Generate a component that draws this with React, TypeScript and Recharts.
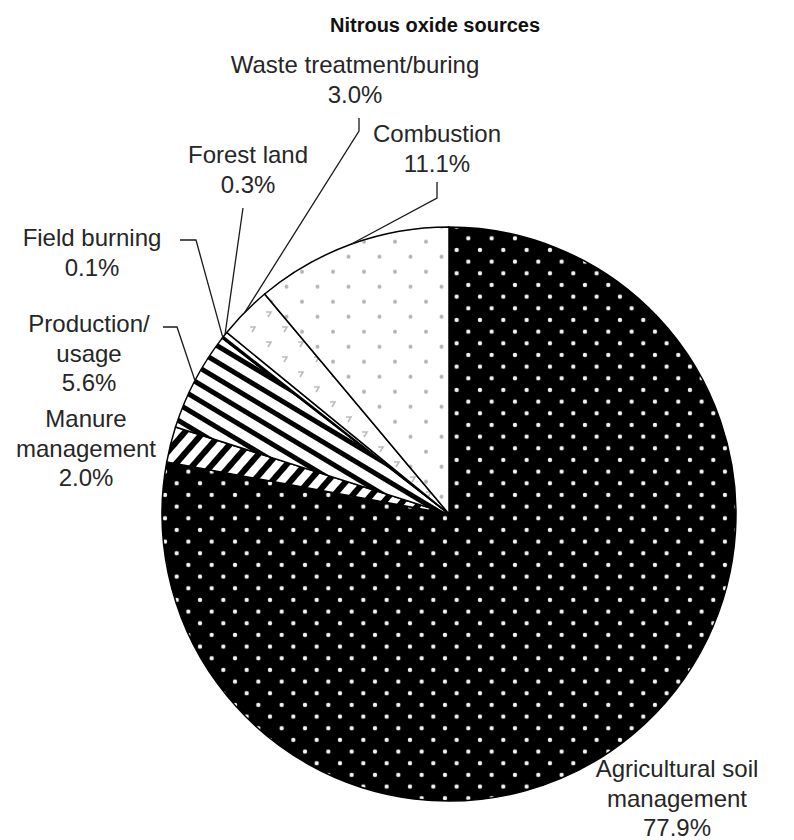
import { Cell, Pie, PieChart } from "recharts";

// nitrous oxide sources, clockwise from 12 o'clock
const sources = [
  "Agricultural soil management",
  "Manure management",
  "Production/usage",
  "Field burning",
  "Forest land",
  "Waste treatment/buring",
  "Combustion",
];
const shares = [77.9, 2.0, 5.6, 0.1, 0.3, 3.0, 11.1];
const labelLines = [
  ["Agricultural soil", "management"],
  ["Manure", "management"],
  ["Production/", "usage"],
  ["Field burning"],
  ["Forest land"],
  ["Waste treatment/buring"],
  ["Combustion"],
];

const chartData = sources.map((name, i) => ({ name, value: shares[i] }));

const fills = [
  "url(#pAgri)",
  "url(#pManure)",
  "url(#pProd)",
  "#000",
  "#fff",
  "url(#pWaste)",
  "url(#pComb)",
];

// where each label sits, and the elbow of its leader line
const labelLayout: { x: number; y: number; leader?: number[][] }[] = [
  { x: 677, y: 777 },
  { x: 86, y: 427 },
  { x: 89, y: 332, leader: [[163, 327], [177, 327]] },
  { x: 92, y: 246, leader: [[180, 240], [196, 240]] },
  { x: 248, y: 163, leader: [[243, 208]] },
  { x: 355, y: 73, leader: [[359, 118], [359, 131]] },
  { x: 437, y: 142, leader: [[437, 182], [437, 198]] },
];

const FONT = "'Liberation Sans', Arial, Helvetica, sans-serif";
const LINE_H = 29.5;
const RAD = Math.PI / 180;

const renderLabel = (props: any) => {
  const { cx, cy, midAngle, outerRadius, index } = props;
  const ex = cx + outerRadius * Math.cos(-midAngle * RAD);
  const ey = cy + outerRadius * Math.sin(-midAngle * RAD);
  const lay = labelLayout[index];
  const lines = [...labelLines[index], `${shares[index].toFixed(1)}%`];
  return (
    <g key={`lbl-${index}`}>
      {lay.leader && (
        <polyline
          points={[...lay.leader, [ex, ey]].map((p) => p.join(",")).join(" ")}
          fill="none"
          stroke="#1a1a1a"
          strokeWidth={1.3}
        />
      )}
      <text
        x={lay.x}
        y={lay.y}
        textAnchor="middle"
        fontFamily={FONT}
        fontSize={24}
        fill="#262626"
      >
        {lines.map((t, i) => (
          <tspan key={i} x={lay.x} dy={i === 0 ? 0 : LINE_H}>
            {t}
          </tspan>
        ))}
      </text>
    </g>
  );
};

export default function App() {
  return (
    <div style={{ position: "absolute", left: 0, top: 0, background: "#fff" }}>
      <PieChart
        width={794}
        height={840}
        margin={{ top: 0, right: 0, bottom: 0, left: 0 }}
      >
        <defs>
          <pattern id="pAgri" patternUnits="userSpaceOnUse" width={23.33} height={23.33} x={1.7} y={5}>
            <rect width={23.33} height={23.33} fill="#000" />
            <circle cx={0} cy={0} r={2.2} fill="#f2f2f2" />
            <circle cx={23.33} cy={0} r={2.2} fill="#f2f2f2" />
            <circle cx={0} cy={23.33} r={2.2} fill="#f2f2f2" />
            <circle cx={23.33} cy={23.33} r={2.2} fill="#f2f2f2" />
            <circle cx={11.67} cy={11.67} r={2.2} fill="#f2f2f2" />
          </pattern>
          <pattern id="pComb" patternUnits="userSpaceOnUse" width={31} height={30} x={23} y={1.7}>
            <rect width={31} height={30} fill="#fff" />
            <circle cx={0} cy={0} r={2} fill="#b3b3b3" />
            <circle cx={31} cy={0} r={2} fill="#b3b3b3" />
            <circle cx={0} cy={30} r={2} fill="#b3b3b3" />
            <circle cx={31} cy={30} r={2} fill="#b3b3b3" />
            <circle cx={15.5} cy={15} r={2} fill="#b3b3b3" />
          </pattern>
          <pattern id="pWaste" patternUnits="userSpaceOnUse" width={32} height={30} x={5} y={7}>
            <rect width={32} height={30} fill="#fff" />
            <path d="M5,5 h5 l-3,5" fill="none" stroke="#bbb" strokeWidth={1.6} />
            <path d="M21,20 h5 l-3,5" fill="none" stroke="#bbb" strokeWidth={1.6} />
          </pattern>
          <pattern id="pProd" patternUnits="userSpaceOnUse" width={14} height={14} patternTransform="rotate(31)">
            <rect width={14} height={14} fill="#fff" />
            <rect width={14} height={5} fill="#000" />
          </pattern>
          <pattern id="pManure" patternUnits="userSpaceOnUse" width={14} height={14} patternTransform="rotate(-49)">
            <rect width={14} height={14} fill="#fff" />
            <rect width={14} height={6} fill="#000" />
          </pattern>
        </defs>
        <text
          x={435}
          y={32}
          textAnchor="middle"
          fontFamily={FONT}
          fontSize={20}
          fontWeight="bold"
          fill="#111"
        >
          Nitrous oxide sources
        </text>
        <Pie
          data={chartData}
          dataKey="value"
          nameKey="name"
          cx={449}
          cy={514}
          outerRadius={287}
          startAngle={90}
          endAngle={-270}
          stroke="#000"
          strokeWidth={1.5}
          label={renderLabel}
          labelLine={false}
          isAnimationActive={false}
        >
          {chartData.map((d, i) => (
            <Cell key={d.name} fill={fills[i]} />
          ))}
        </Pie>
      </PieChart>
    </div>
  );
}
